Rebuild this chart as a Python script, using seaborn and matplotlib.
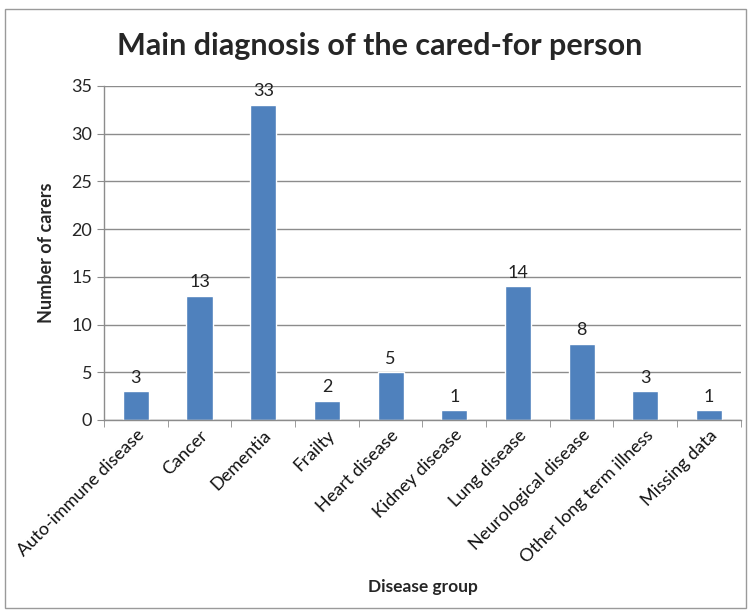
import matplotlib
matplotlib.use("Agg")
import matplotlib.pyplot as plt
import seaborn as sns
import pandas as pd
from matplotlib.patches import Rectangle

categories = ["Auto-immune disease", "Cancer", "Dementia", "Frailty", "Heart disease",
              "Kidney disease", "Lung disease", "Neurological disease",
              "Other long term illness", "Missing data"]
carers = [3, 13, 33, 2, 5, 1, 14, 8, 3, 1]

df = pd.DataFrame({"group": categories, "n": carers})

sns.set_style("white")
plt.rcParams["font.family"] = ["Lato", "DejaVu Sans"]

fig = plt.figure(figsize=(7.51, 6.14), dpi=100)
ax = fig.add_axes([0.1385, 0.316, 0.848, 0.544])

sns.barplot(data=df, x="group", y="n", color="#4F81BD", width=0.41,
            saturation=1, ax=ax)

for i, v in enumerate(carers):
    ax.text(i, v + 0.6, str(v), ha="center", va="bottom", fontsize=13, color="#222222")

ax.set_ylim(0, 35)
ax.set_xlim(-0.5, len(categories) - 0.5)
ax.set_yticks(range(0, 36, 5))
ax.yaxis.grid(True, color="#8c8c8c", linewidth=1)
ax.set_axisbelow(True)
for s in ["top", "right"]:
    ax.spines[s].set_visible(False)
for s in ["left", "bottom"]:
    ax.spines[s].set_color("#8c8c8c")
    ax.spines[s].set_linewidth(1)

ax.set_xticks([i - 0.5 for i in range(len(categories) + 1)], minor=True)
ax.tick_params(axis="x", which="minor", length=5, color="#8c8c8c", direction="out", bottom=True)
ax.tick_params(axis="x", which="major", length=0, labelsize=13, pad=5)
ax.tick_params(axis="y", length=5, color="#8c8c8c", direction="out", left=True, labelsize=13)
ax.set_xticks(range(len(categories)))
ax.set_xticklabels(categories, rotation=45, ha="right", rotation_mode="anchor", color="#111111")

ax.set_xlabel("Disease group", fontsize=12.5, fontweight="bold")
ax.set_ylabel("Number of carers", fontsize=13, fontweight="bold", labelpad=12)
ax.xaxis.set_label_coords(0.5, -0.475)

fig.text(0.505, 0.925, "Main diagnosis of the cared-for person", ha="center", va="center",
         fontsize=22, fontweight="bold")

fig.patches.append(Rectangle((0.007, 0.01), 0.986, 0.975, transform=fig.transFigure,
                             fill=False, edgecolor="#9a9a9a", linewidth=1))

fig.savefig("out.png", dpi=100)
